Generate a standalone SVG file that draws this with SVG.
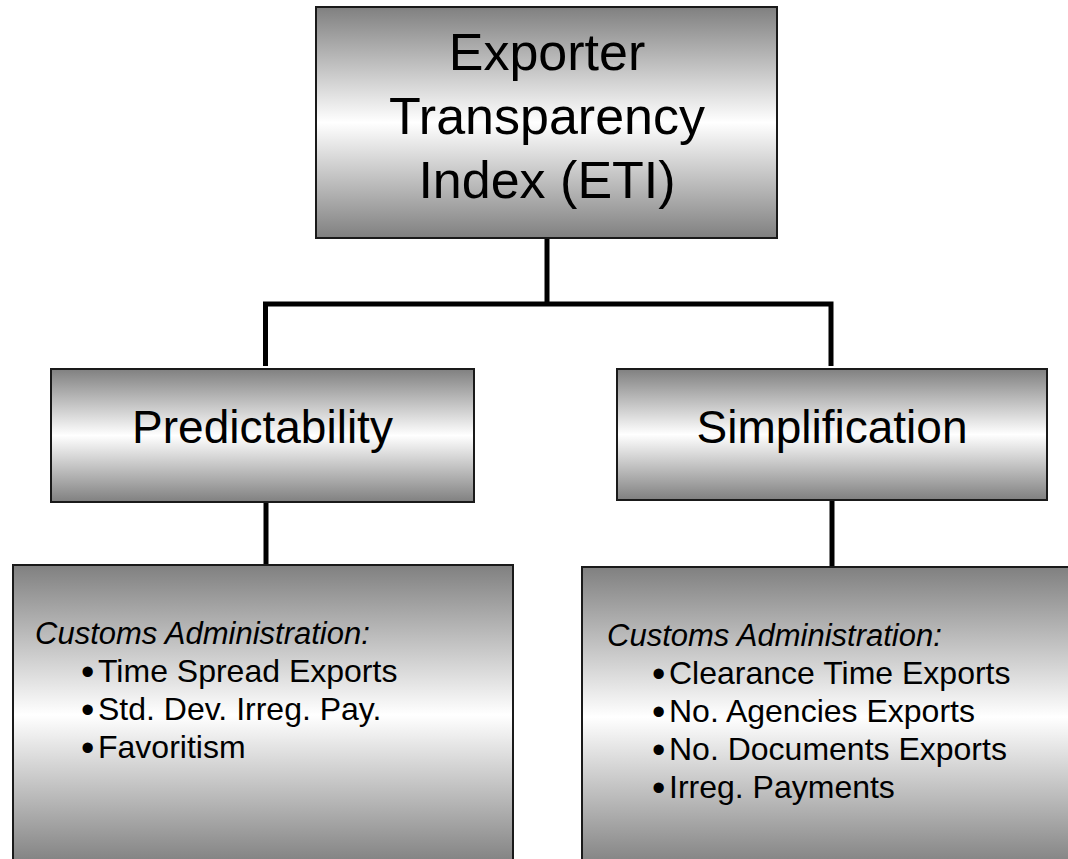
<svg xmlns="http://www.w3.org/2000/svg" width="1068" height="859" viewBox="0 0 1068 859">
<defs>
<linearGradient id="g" x1="0" y1="0" x2="0" y2="1">
<stop offset="0" stop-color="#808080"/>
<stop offset="0.5" stop-color="#ffffff"/>
<stop offset="1" stop-color="#808080"/>
</linearGradient>
</defs>
<style>
.box{fill:url(#g);stroke:#1a1a1a;stroke-width:2}
.t{font-family:"Liberation Sans",Arial,sans-serif;fill:#000}
.big{font-size:52px;text-anchor:middle}
.mid{font-size:46px;text-anchor:middle}
.sm{font-size:32px}
.it{font-style:italic;font-size:31px}
.b{font-size:38px}
.c{stroke:#000;stroke-width:5;fill:none}
</style>
<rect width="1068" height="859" fill="#fff"/>
<g id="connectors">
<line class="c" x1="547" y1="238" x2="547" y2="304"/>
<polyline class="c" points="265.5,366 265.5,304 831,304 831,366"/>
<line class="c" x1="266" y1="502" x2="266" y2="565"/>
<line class="c" x1="832" y1="500" x2="832" y2="567"/>
</g>
<g id="eti">
<rect class="box" x="316" y="7" width="461" height="231"/>
<text class="t big" x="547" y="70">Exporter</text>
<text class="t big" x="547" y="134">Transparency</text>
<text class="t big" x="547" y="198">Index (ETI)</text>
</g>
<g id="predictability">
<rect class="box" x="51" y="369" width="423" height="133"/>
<text class="t mid" x="262.5" y="443">Predictability</text>
</g>
<g id="simplification">
<rect class="box" x="617" y="369" width="430" height="131"/>
<text class="t mid" x="832" y="443">Simplification</text>
</g>
<g id="pred-details">
<rect class="box" x="13" y="565" width="500" height="300"/>
<text class="t it" x="35" y="644">Customs Administration:</text>
<text class="t sm" x="81" y="682"><tspan class="b" dy="3">•</tspan><tspan x="98" dy="-3">Time Spread Exports</tspan></text>
<text class="t sm" x="81" y="720"><tspan class="b" dy="3">•</tspan><tspan x="98" dy="-3">Std. Dev. Irreg. Pay.</tspan></text>
<text class="t sm" x="81" y="758"><tspan class="b" dy="3">•</tspan><tspan x="98" dy="-3">Favoritism</tspan></text>
</g>
<g id="simp-details">
<rect class="box" x="582" y="567" width="500" height="300"/>
<text class="t it" x="607" y="646">Customs Administration:</text>
<text class="t sm" x="652" y="684"><tspan class="b" dy="3">•</tspan><tspan x="669" dy="-3">Clearance Time Exports</tspan></text>
<text class="t sm" x="652" y="722"><tspan class="b" dy="3">•</tspan><tspan x="669" dy="-3">No. Agencies Exports</tspan></text>
<text class="t sm" x="652" y="760"><tspan class="b" dy="3">•</tspan><tspan x="669" dy="-3">No. Documents Exports</tspan></text>
<text class="t sm" x="652" y="798"><tspan class="b" dy="3">•</tspan><tspan x="669" dy="-3">Irreg. Payments</tspan></text>
</g>
</svg>
